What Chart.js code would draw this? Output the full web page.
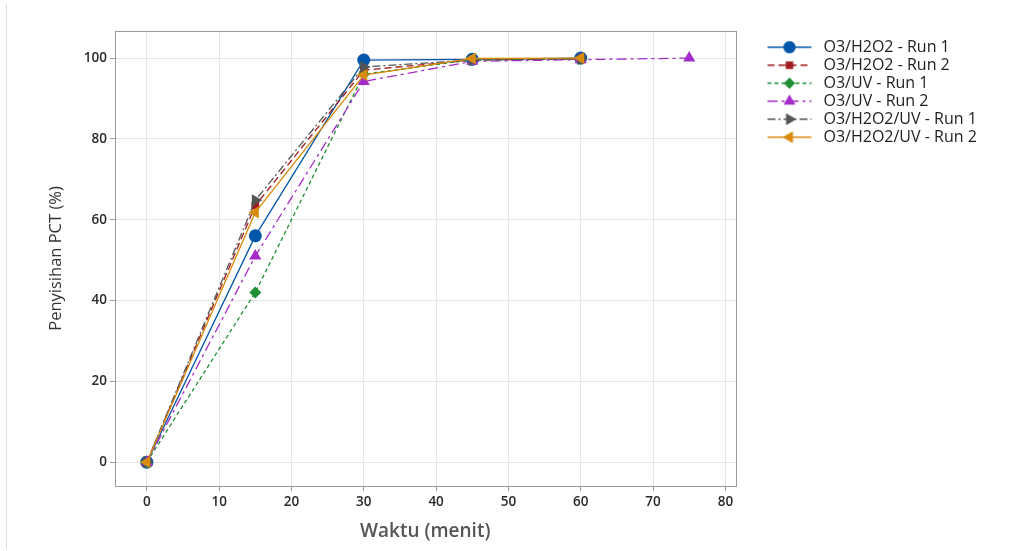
<!DOCTYPE html>
<html>
<head>
<meta charset="utf-8">
<script src="https://cdn.jsdelivr.net/npm/chart.js@4.4.1/dist/chart.umd.min.js"></script>
<style>
  html, body { margin: 0; padding: 0; background: #fff; }
  #wrap { position: relative; width: 1011px; height: 551px; }
  #edge { position: absolute; left: 6px; top: 4px; width: 1px; height: 545px; background: #dcdcdc; }
</style>
</head>
<body>
<div id="wrap">
  <canvas id="myChart" width="1011" height="551"></canvas>
  <div id="edge"></div>
</div>
<script>
// data
const times = [0, 15, 30, 45, 60];
const timesLong = [0, 15, 30, 45, 60, 75];
const o3h2o2Run1 = [0, 56, 99.5, 99.7, 100];
const o3h2o2Run2 = [0, 63.5, 97, 99.5, 99.8];
const o3uvRun1 = [0, 42, 96, 99.6, 99.8];
const o3uvRun2 = [0, 51, 94.2, 99.2, 99.6, 100];
const o3h2o2uvRun1 = [0, 64.8, 97.8, 99.5, 99.8];
const o3h2o2uvRun2 = [0, 61.8, 95.8, 99.9, 100];
const xTicks = [0, 10, 20, 30, 40, 50, 60, 70, 80];
const yTicks = [0, 20, 40, 60, 80, 100];

const seriesNames = ['O3/H2O2 - Run 1', 'O3/H2O2 - Run 2', 'O3/UV - Run 1', 'O3/UV - Run 2', 'O3/H2O2/UV - Run 1', 'O3/H2O2/UV - Run 2'];

function pts(xs, ys) {
    return ys.map((y, i) => ({x: xs[i], y: y}));
}

let styles = [
    {color: '#0056a8', dash: [], point: 'circle', radius: 6.5, rot: 0},
    {color: '#a01a1e', dash: [7, 4], point: 'rect', radius: 5.5, rot: 0},
    {color: '#1e8f32', dash: [4, 3], point: 'rectRot', radius: 6, rot: 0},
    {color: '#a52cc9', dash: [10, 4, 3, 4], point: 'triangle', radius: 7, rot: 0},
    {color: '#555555', dash: [8, 3, 2, 3], point: 'triangle', radius: 7, rot: 90},
    {color: '#d88b0c', dash: [], point: 'triangle', radius: 7, rot: -90}
];

let values = [
    pts(times, o3h2o2Run1),
    pts(times, o3h2o2Run2),
    pts(times, o3uvRun1),
    pts(timesLong, o3uvRun2),
    pts(times, o3h2o2uvRun1),
    pts(times, o3h2o2uvRun2)
];

// legend sample: blank margin on the left, then line with marker in the middle
function legendSample(st) {
    let c = document.createElement('canvas');
    c.width = 78; c.height = 16;
    let g = c.getContext('2d');
    g.strokeStyle = st.color;
    g.lineWidth = 1.3;
    g.setLineDash(st.dash);
    g.beginPath();
    g.moveTo(30, 8); g.lineTo(74, 8);
    g.stroke();
    g.setLineDash([]);
    g.fillStyle = st.color;
    g.beginPath();
    Chart.helpers.drawPoint(g, {pointStyle: st.point, rotation: st.rot, radius: st.radius - 0.5, borderWidth: 0}, 52, 8);
    g.fill();
    return c;
}

let datasets = values.map((v, i) => ({
    label: seriesNames[i],
    data: v,
    borderColor: styles[i].color,
    backgroundColor: styles[i].color,
    borderWidth: 1.3,
    borderDash: styles[i].dash,
    pointStyle: styles[i].point,
    pointRadius: styles[i].radius,
    pointRotation: styles[i].rot,
    pointBorderWidth: 0,
    pointHoverRadius: styles[i].radius,
    order: 6 - i,
    tension: 0,
    fill: false
}));

const frame = {
    id: 'frame',
    afterDraw(chart) {
        let a = chart.chartArea, ctx = chart.ctx;
        ctx.save();
        ctx.strokeStyle = '#9a9a9a';
        ctx.lineWidth = 1;
        ctx.strokeRect(Math.round(a.left) + 0.5, Math.round(a.top) + 0.5, Math.round(a.right - a.left), Math.round(a.bottom - a.top));
        ctx.restore();
    }
};

let tickFont = {family: '"Open Sans", sans-serif', size: 13.5, weight: '600'};

let ctx = document.getElementById('myChart');
let myLineChart = new Chart(ctx, {
    type: 'line',
    data: {datasets: datasets},
    plugins: [frame],
    options: {
        responsive: false,
        animation: false,
        events: [],
        layout: {padding: {left: 8, top: 31, right: 33, bottom: 4}},
        plugins: {
            tooltip: {enabled: false},
            legend: {
                position: 'right',
                align: 'start',
                title: {display: true, text: '', font: {size: 1}, padding: {top: 5, bottom: 0}},
                labels: {
                    usePointStyle: true,
                    pointStyleWidth: 78,
                    boxHeight: 16,
                    padding: 2,
                    color: '#1e1e1e',
                    font: {family: '"Open Sans", sans-serif', size: 16},
                    sort: (a, b) => a.datasetIndex - b.datasetIndex,
                    generateLabels: chart => chart.data.datasets.map((d, i) => ({
                        text: d.label,
                        fontColor: '#1e1e1e',
                        pointStyle: legendSample(styles[i]),
                        fillStyle: d.borderColor,
                        strokeStyle: d.borderColor,
                        lineWidth: 0,
                        datasetIndex: i,
                        hidden: false
                    }))
                }
            }
        },
        scales: {
            x: {
                type: 'linear',
                min: -4.4,
                max: 81.4,
                afterBuildTicks: scale => { scale.ticks = xTicks.map(v => ({value: v})); },
                afterFit: scale => { scale.height = 61; },
                border: {color: '#9a9a9a'},
                grid: {color: '#e6e6e6', tickColor: '#9a9a9a', tickLength: 5},
                ticks: {color: '#2a2a2a', font: tickFont, padding: 3},
                title: {
                    display: true,
                    text: 'Waktu (menit)',
                    color: '#555',
                    font: {family: '"Open Sans", sans-serif', size: 19, weight: '600'},
                    padding: {top: 4, bottom: 4}
                }
            },
            y: {
                type: 'linear',
                min: -5.9,
                max: 106.7,
                afterBuildTicks: scale => { scale.ticks = yTicks.map(v => ({value: v})); },
                afterFit: scale => { scale.width = 107; },
                border: {color: '#9a9a9a'},
                grid: {color: '#e6e6e6', tickColor: '#9a9a9a', tickLength: 5},
                ticks: {color: '#2a2a2a', font: tickFont, padding: 3},
                title: {
                    display: true,
                    text: 'Penyisihan PCT (%)',
                    color: '#333',
                    font: {family: '"Open Sans", sans-serif', size: 16.5},
                    padding: {top: 38, bottom: 0}
                }
            }
        }
    }
});
</script>
</body>
</html>
